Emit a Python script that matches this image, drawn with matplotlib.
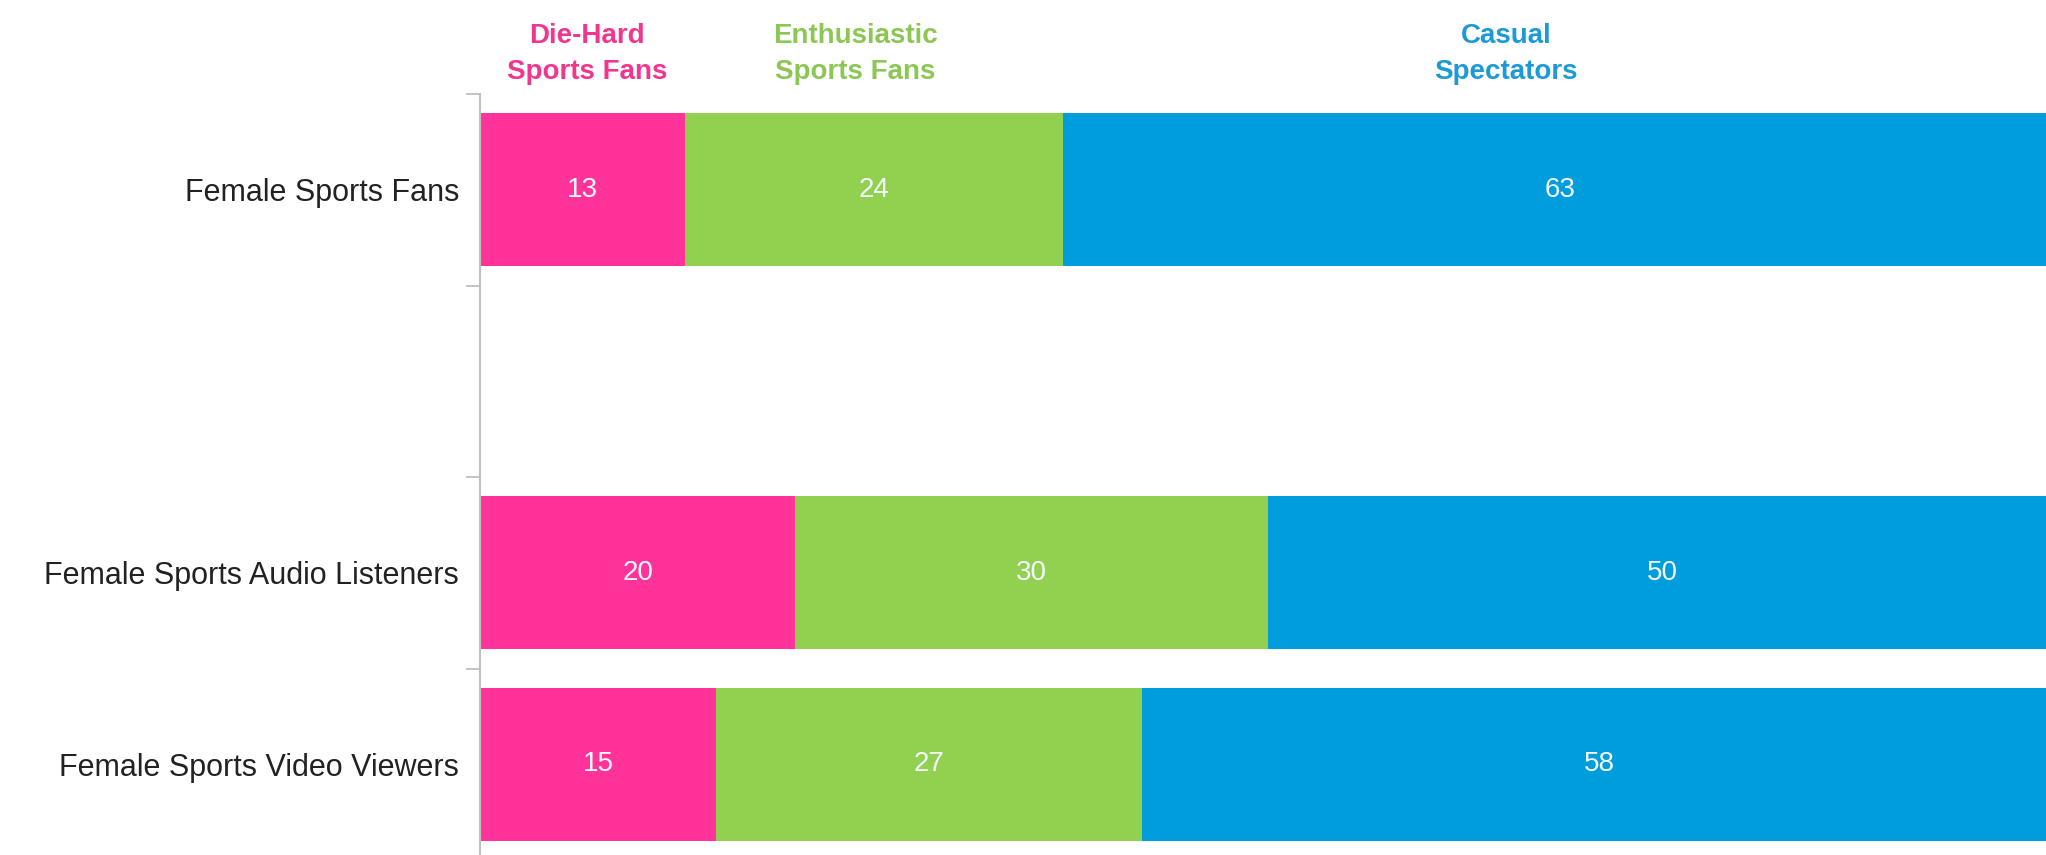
import numpy as np
import matplotlib
matplotlib.use('Agg')
import matplotlib.pyplot as plt

# data
groups = ['Female Sports Fans', '', 'Female Sports Audio Listeners', 'Female Sports Video Viewers']
segments = ['Die-Hard\nSports Fans', 'Enthusiastic\nSports Fans', 'Casual\nSpectators']
die_hard = [13, None, 20, 15]
enthusiastic = [24, None, 30, 27]
casual = [63, None, 50, 58]

colors = ['#FF3399', '#92D050', '#009DDC']
head_colors = ['#F0368F', '#8CC653', '#1C9AD6']

plt.rcParams['font.family'] = ['Liberation Sans', 'DejaVu Sans']

fig = plt.figure(figsize=(20.46, 8.55), dpi=100)
ax = fig.add_axes([0.2346, -0.006, 0.7703, 0.896])

y = np.arange(len(groups))
left = np.zeros(len(groups))
for vals, c in zip([die_hard, enthusiastic, casual], colors):
    v = np.array([np.nan if x is None else x for x in vals], dtype=float)
    bars = ax.barh(y, np.nan_to_num(v), left=left, height=0.8, color=c, edgecolor='none')
    for i, val in enumerate(v):
        if not np.isnan(val):
            ax.text(left[i] + val / 2, y[i], '%d' % val, ha='center', va='center',
                    color='#F4FAFF', fontsize=20)
    left = left + np.nan_to_num(v)

ax.set_xlim(0, 100)
ax.set_ylim(len(groups) - 0.5, -0.5)
ax.set_yticks(y)
ax.set_yticklabels(groups, fontsize=22, color='#222222')
ax.set_yticks(np.arange(len(groups) + 1) - 0.5, minor=True)
ax.tick_params(axis='y', which='major', length=0, pad=15)
ax.tick_params(axis='y', which='minor', length=10, width=1.3, color='#BFBFBF')
ax.set_xticks([])
for s in ['top', 'right', 'bottom']:
    ax.spines[s].set_visible(False)
ax.spines['left'].set_color('#BFBFBF')
ax.spines['left'].set_linewidth(1.5)

# segment headers above the chart
head_x = [6.8, 23.8, 65.1]
for hx, txt, c in zip(head_x, segments, head_colors):
    ax.text(hx, 1.052, txt, transform=ax.get_xaxis_transform(), ha='center', va='center',
            color=c, fontsize=20, fontweight='bold', linespacing=1.5)

fig.savefig('out.png', dpi=100)
